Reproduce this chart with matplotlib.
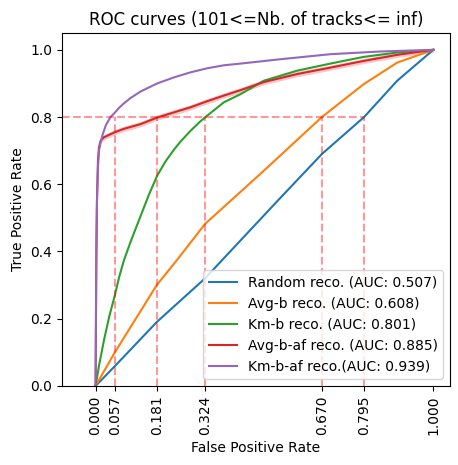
import numpy as np
import matplotlib
matplotlib.use("Agg")
import matplotlib.pyplot as plt

# ROC points (FPR, TPR)
random_fpr = [0.0, 0.057, 0.181, 0.324, 0.54, 0.67, 0.795, 0.893, 1.0]
random_tpr = [0.0, 0.059, 0.19, 0.32, 0.552, 0.69, 0.8, 0.908, 1.0]

avgb_fpr = [0.0, 0.057, 0.181, 0.242, 0.324, 0.5, 0.67, 0.794, 0.893, 1.0]
avgb_tpr = [0.0, 0.10, 0.30, 0.376, 0.482, 0.642, 0.8, 0.898, 0.962, 1.0]

kmb_fpr = [0.0, 0.01, 0.025, 0.04, 0.057, 0.07, 0.084, 0.104, 0.133, 0.157, 0.1825,
           0.207, 0.232, 0.2515, 0.28, 0.31, 0.324, 0.38, 0.429, 0.498, 0.597,
           0.695, 0.794, 0.893, 1.0]
kmb_tpr = [0.0, 0.06, 0.137, 0.205, 0.27, 0.325, 0.374, 0.43, 0.505, 0.567, 0.626,
           0.668, 0.703, 0.727, 0.758, 0.787, 0.799, 0.844, 0.868, 0.908, 0.938,
           0.959, 0.979, 0.992, 1.0]

avgbaf_fpr = [0.0, 0.002, 0.004, 0.007, 0.01, 0.015, 0.025, 0.057, 0.084, 0.133, 0.181,
              0.232, 0.281, 0.33, 0.38, 0.429, 0.498, 0.597, 0.695, 0.794, 0.893, 1.0]
avgbaf_tpr = [0.0, 0.35, 0.55, 0.67, 0.71, 0.73, 0.74, 0.755, 0.765, 0.779, 0.798,
              0.814, 0.829, 0.847, 0.864, 0.88, 0.904, 0.928, 0.947, 0.967, 0.985, 1.0]
avgbaf_std = 0.008

kmbaf_fpr = [0.0, 0.001, 0.002, 0.004, 0.007, 0.01, 0.015, 0.02, 0.03, 0.044, 0.057,
             0.07, 0.084, 0.104, 0.133, 0.1825, 0.232, 0.281, 0.33, 0.38, 0.429,
             0.547, 0.695, 0.843, 1.0]
kmbaf_tpr = [0.0, 0.2, 0.4, 0.55, 0.65, 0.70, 0.725, 0.745, 0.775, 0.80, 0.813,
             0.828, 0.841, 0.857, 0.876, 0.90, 0.918, 0.933, 0.945, 0.954, 0.959,
             0.972, 0.987, 0.995, 1.0]

labels = ["Random reco. (AUC: 0.507)", "Avg-b reco. (AUC: 0.608)", "Km-b reco. (AUC: 0.801)",
          "Avg-b-af reco. (AUC: 0.885)", "Km-b-af reco.(AUC: 0.939)"]

# FPR values where TPR reaches 0.8
cut_fpr = [0.057, 0.181, 0.324, 0.670, 0.795]
tpr_level = 0.8

fig, ax = plt.subplots(figsize=(4.58, 4.65), dpi=100)
fig.subplots_adjust(left=0.135, right=0.983, top=0.929, bottom=0.17)

ax.plot(random_fpr, random_tpr, color="C0", label=labels[0])
ax.plot(avgb_fpr, avgb_tpr, color="C1", label=labels[1])
ax.plot(kmb_fpr, kmb_tpr, color="C2", label=labels[2])
ax.plot(avgbaf_fpr, avgbaf_tpr, color="C3", label=labels[3])
band_lo = np.clip(np.array(avgbaf_tpr) - avgbaf_std, 0, 1)
band_hi = np.clip(np.array(avgbaf_tpr) + avgbaf_std, 0, 1)
ax.fill_between(avgbaf_fpr, band_lo, band_hi, color="C3", alpha=0.25, lw=0)
ax.plot(kmbaf_fpr, kmbaf_tpr, color="C4", label=labels[4])

xmin = -0.1
for x in cut_fpr:
    ax.plot([x, x], [0, tpr_level], color="r", ls="--", alpha=0.4)
ax.plot([xmin, max(cut_fpr)], [tpr_level, tpr_level], color="r", ls="--", alpha=0.4)

ticks = [0.0] + cut_fpr + [1.0]
ax.set_xticks(ticks)
ax.set_xticklabels([f"{t:.3f}" for t in ticks], rotation=90)
ax.set_xlim(xmin, 1.05)
ax.set_ylim(0, 1.05)
ax.set_xlabel("False Positive Rate")
ax.set_ylabel("True Positive Rate")
ax.set_title("ROC curves (101<=Nb. of tracks<= inf)")
ax.legend(loc="lower right")

fig.savefig("out.png", dpi=100)
